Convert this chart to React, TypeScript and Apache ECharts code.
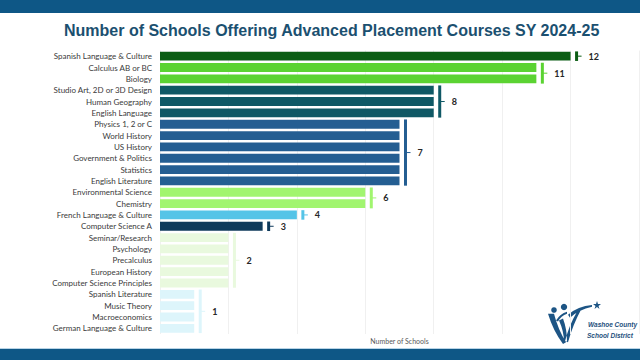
import React, { useEffect, useRef } from "react";
import * as echarts from "echarts";

const categories = [
  "Spanish Language & Culture",
  "Calculus AB or BC",
  "Biology",
  "Studio Art, 2D or 3D Design",
  "Human Geography",
  "English Language",
  "Physics 1, 2 or C",
  "World History",
  "US History",
  "Government & Politics",
  "Statistics",
  "English Literature",
  "Environmental Science",
  "Chemistry",
  "French Language & Culture",
  "Computer Science A",
  "Seminar/Research",
  "Psychology",
  "Precalculus",
  "European History",
  "Computer Science Principles",
  "Spanish Literature",
  "Music Theory",
  "Macroeconomics",
  "German Language & Culture",
];

const values = [12, 11, 11, 8, 8, 8, 7, 7, 7, 7, 7, 7, 6, 6, 4, 3, 2, 2, 2, 2, 2, 1, 1, 1, 1];

// one colour per run of equal values, top to bottom
const groupColors = [
  "#0b5d14",
  "#5bd332",
  "#0f5865",
  "#245e92",
  "#a1f56f",
  "#55c4e7",
  "#0f3a5b",
  "#e9f9de",
  "#ddf5fb",
];

const TITLE = "Number of Schools Offering Advanced Placement Courses SY 2024-25";
const X_NAME = "Number of Schools";

type Group = { value: number; start: number; end: number };
const groups: Group[] = [];
values.forEach((v, i) => {
  const last = groups[groups.length - 1];
  if (last && last.value === v) last.end = i;
  else groups.push({ value: v, start: i, end: i });
});
const groupOf = values.map((_, i) => groups.findIndex((g) => i >= g.start && i <= g.end));

const logoPath =
  "M0 14 Q5 31 15 45 L18 43 Q10 30 6 14 Z " +
  "M11 21 Q16 32 16 43 L19 42 Q19 30 15 19 Z " +
  "M17 42 Q21 26 29 12 L33 10 Q25 25 20 43 Z " +
  "M20 15 Q30 6 44 5 L44 7 Q31 10 22 18 Z " +
  "M8 21 Q12 14 19 12 L19 14 Q13 16 10 22 Z";

let registered = false;

export default function App() {
  const ref = useRef<HTMLDivElement>(null);
  useEffect(() => {
    document.body.style.margin = "0";
    if (!registered) {
      echarts.graphic.registerShape("logo", echarts.graphic.extendPath(logoPath, {}) as any);
      registered = true;
    }
    const chart = echarts.init(ref.current!, undefined, { renderer: "svg" });
    const logoText = {
      fill: "#1d4f7c",
      fontSize: 6.5,
      fontWeight: "bold",
      fontStyle: "italic",
      fontFamily: "Liberation Sans",
    };
    const option: any = {
      animation: false,
      backgroundColor: "#ffffff",
      graphic: [
        { type: "rect", left: 0, top: 0, shape: { width: 640, height: 13 }, style: { fill: "#0e5786" }, z: 10 },
        { type: "rect", left: 0, top: 349, shape: { width: 640, height: 11 }, style: { fill: "#0e5786" }, z: 10 },
        { type: "rect", left: 0, top: 348, shape: { width: 640, height: 1 }, style: { fill: "#b9d4e6" }, z: 10 },
        {
          type: "text",
          left: 64,
          top: 22,
          style: {
            text: TITLE,
            fill: "#1b5070",
            fontSize: 16,
            fontWeight: "bold",
            fontFamily: "Liberation Sans",
          },
        },
        {
          type: "group",
          left: 548,
          top: 301,
          children: [
            { type: "logo", x: 0, y: 0, scaleX: 1, scaleY: 0.98, style: { fill: "#1d5585" } },
            { type: "circle", shape: { cx: 6, cy: 10, r: 2.8 }, style: { fill: "#1d5585" } },
            { type: "circle", shape: { cx: 16, cy: 7, r: 3.2 }, style: { fill: "#1d5585" } },
            {
              type: "polygon",
              shape: {
                points: [
                  [49, 1], [50, 4], [53, 4], [50.5, 6], [51.5, 9], [49, 7], [46.5, 9], [47.5, 6], [45, 4], [48, 4],
                ],
              },
              style: { fill: "#1d5585" },
            },
          ],
        },
        { type: "text", left: 588, top: 321, style: { text: "Washoe County", ...logoText } },
        { type: "text", left: 587, top: 332, style: { text: "School District", ...logoText } },
        { type: "rect", left: 588, top: 329.5, shape: { width: 46, height: 0.6 }, style: { fill: "#c8d3dc" } },
      ],
      grid: { left: 160, right: 1, top: 50.5, bottom: 26, containLabel: false },
      xAxis: {
        type: "value",
        min: 0,
        max: 14,
        interval: 2,
        axisLabel: { show: false },
        axisLine: { show: false },
        axisTick: { show: false },
        splitLine: { show: true, lineStyle: { color: "#f0f0f0", width: 1 } },
        name: X_NAME,
        nameLocation: "middle",
        nameGap: 3,
        nameTextStyle: { fontSize: 7, color: "#595959", fontFamily: "Lato", verticalAlign: "top" },
      },
      yAxis: {
        type: "category",
        data: categories,
        inverse: true,
        axisLine: { show: false },
        axisTick: { show: false },
        axisLabel: { color: "#3a3a3a", fontSize: 8, fontFamily: "Lato", margin: 8, interval: 0 },
      },
      series: [
        {
          type: "bar",
          data: values.map((v, i) => ({ value: v, itemStyle: { color: groupColors[groupOf[i]] } })),
          barCategoryGap: "22%",
          z: 2,
        },
        {
          type: "custom",
          data: groups.map((g) => [g.value, g.start, g.end]),
          encode: { x: 0, y: 1 },
          z: 3,
          renderItem: (params: any, api: any) => {
            const v = api.value(0);
            const s = api.value(1);
            const e = api.value(2);
            const p1 = api.coord([v, s]);
            const p2 = api.coord([v, e]);
            const band = api.size([0, 1])[1];
            const half = band * 0.42;
            const x = p1[0] + 6;
            const y1 = p1[1] - half;
            const y2 = p2[1] + half;
            const ym = (p1[1] + p2[1]) / 2;
            const color = groupColors[params.dataIndex];
            return {
              type: "group",
              children: [
                { type: "rect", shape: { x: x - 1.5, y: y1, width: 3, height: y2 - y1 }, style: { fill: color } },
                { type: "line", shape: { x1: x, y1: ym, x2: x + 5, y2: ym }, style: { stroke: color, lineWidth: 1 } },
                {
                  type: "text",
                  x: x + 12,
                  y: ym,
                  style: {
                    text: String(v),
                    fill: "#262626",
                    fontSize: 9,
                    fontWeight: "bold",
                    fontFamily: "Lato",
                    align: "left",
                    verticalAlign: "middle",
                  },
                },
              ],
            };
          },
        },
      ],
    };
    chart.setOption(option);
    return () => chart.dispose();
  }, []);
  return <div ref={ref} style={{ width: 640, height: 360 }} />;
}
